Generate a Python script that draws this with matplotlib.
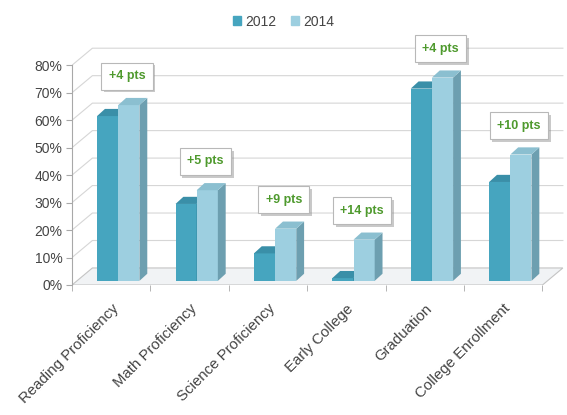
import numpy as np
import matplotlib
matplotlib.use("Agg")
import matplotlib.pyplot as plt
import matplotlib.patheffects as pe
from matplotlib.patches import Polygon, Patch

plt.rcParams['font.family'] = ['Liberation Sans', 'DejaVu Sans']

categories = ["Reading Proficiency", "Math Proficiency", "Science Proficiency",
              "Early College", "Graduation", "College Enrollment"]
vals_2012 = [60, 28, 10, 1, 70, 36]
vals_2014 = [64, 33, 19, 15, 74, 46]
gain_labels = ["+4 pts", "+5 pts", "+9 pts", "+14 pts", "+4 pts", "+10 pts"]
yticks = [0, 10, 20, 30, 40, 50, 60, 70, 80]

# colours: front, side, top
c12 = ("#46a5bf", "#2f7f96", "#3a8fa8")
c14 = ("#9dcfe0", "#6d9fb0", "#8bbfd0")

# fake 3d geometry (data units)
dx, dy = 0.26, 6.2      # wall depth
oy = 1.5                # bar front plane lift
bx, by = 0.10, 2.6      # bar depth
w = 0.27

fig = plt.figure(figsize=(5.67, 4.15), dpi=100)
ax = fig.add_axes([72/567, 130/415, 494/567, 239/415])
ax.set_xlim(0, 6.3)
ax.set_ylim(0, 87)
n = len(categories)

# walls / gridlines
grid_c = "#d6d6d6"
for v in yticks[1:]:
    ax.plot([0, dx, n + dx], [v, v + dy, v + dy], color=grid_c, lw=0.8, zorder=1)
floor = Polygon([(0, 0), (n, 0), (n + dx, dy), (dx, dy)], closed=True,
                fc="#f1f3f5", ec="#c4c4c4", lw=0.8, zorder=1)
ax.add_patch(floor)


def draw_bar(xl, v, cols, z):
    xr = xl + w
    ax.bar(xl, v, width=w, bottom=oy, align='edge', color=cols[0],
           lw=0, zorder=z)
    side = Polygon([(xr, oy), (xr + bx, oy + by), (xr + bx, v + oy + by), (xr, v + oy)],
                   closed=True, fc=cols[1], lw=0, zorder=z)
    top = Polygon([(xl, v + oy), (xr, v + oy), (xr + bx, v + oy + by), (xl + bx, v + oy + by)],
                  closed=True, fc=cols[2], lw=0, zorder=z)
    ax.add_patch(side)
    ax.add_patch(top)


centers = np.arange(n) + 0.5
for i, c in enumerate(centers):
    draw_bar(c - 0.18, vals_2012[i], c12, 3 + 2 * i)
    draw_bar(c - 0.18 + w, vals_2014[i], c14, 4 + 2 * i)

# gain boxes
for i, c in enumerate(centers):
    t = ax.text(c + 0.2, vals_2014[i] + 12, gain_labels[i], ha='center', va='center',
                fontsize=9, color="#4f9a2e", fontweight='bold', zorder=20, clip_on=False,
                bbox=dict(boxstyle='square,pad=0.6', fc='white', ec='#b8b8b8', lw=0.8))
    t.get_bbox_patch().set_path_effects(
        [pe.withSimplePatchShadow(offset=(2, -2), shadow_rgbFace='#888888', alpha=0.45)])

# axes styling
for s in ['top', 'right', 'bottom']:
    ax.spines[s].set_visible(False)
ax.spines['left'].set_bounds(0, 80)
ax.spines['left'].set_color("#a8a8a8")
ax.set_yticks(yticks)
ax.set_yticklabels([f"{v}%" for v in yticks])
ax.tick_params(axis='y', length=4, color="#a8a8a8", labelsize=10,
               labelcolor="#444444", pad=3)

ax.set_xticks(centers)
ax.set_xticklabels(categories, rotation=45, ha='right', rotation_mode='anchor')
ax.tick_params(axis='x', which='major', length=0, labelsize=10.8,
               labelcolor="#444444", pad=12)
ax.set_xticks(np.arange(n + 1), minor=True)
ax.tick_params(axis='x', which='minor', length=4, color="#a8a8a8")

handles = [Patch(color=c12[0], label="2012"), Patch(color=c14[0], label="2014")]
fig.legend(handles=handles, loc='upper center', bbox_to_anchor=(0.5, 0.995), ncol=2,
           frameon=False, fontsize=10, handlelength=0.6, handleheight=0.6,
           handletextpad=0.3, columnspacing=1.0, labelcolor="#444444")

fig.savefig("out.png", dpi=100)
